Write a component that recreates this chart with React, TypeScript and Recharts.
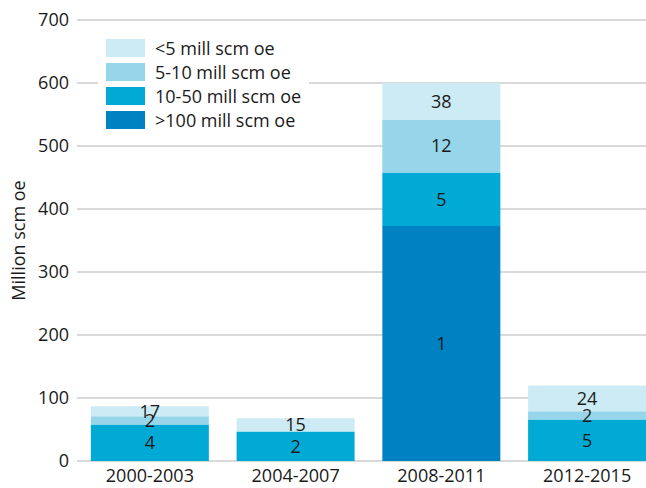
import { Bar, BarChart, CartesianGrid, LabelList, XAxis, YAxis } from "recharts";

// periods on the x axis
const periods = ["2000-2003", "2004-2007", "2008-2011", "2012-2015"];

// volumes (million scm oe), stacked bottom to top
const over100 = [0, 0, 373, 0];
const from10to50 = [58, 47, 85, 66];
const from5to10 = [13, 0, 84, 13];
const under5 = [16, 21, 58, 41];

// number of discoveries printed inside each segment
const over100Count = [null, null, 1, null];
const from10to50Count = [4, 2, 5, 5];
const from5to10Count = [2, null, 12, 2];
const under5Count = [17, 15, 38, 24];

const yTicks = [0, 100, 200, 300, 400, 500, 600, 700];

const seriesKeys = ["over100", "from10to50", "from5to10", "under5"];
const seriesNames = [">100 mill scm oe", "10-50 mill scm oe", "5-10 mill scm oe", "<5 mill scm oe"];
const seriesColors = ["#0081c1", "#00aad5", "#96d5ea", "#cdebf4"];

const data = periods.map((period, i) => ({
	period,
	over100: over100[i],
	from10to50: from10to50[i],
	from5to10: from5to10[i],
	under5: under5[i],
	over100Count: over100Count[i],
	from10to50Count: from10to50Count[i],
	from5to10Count: from5to10Count[i],
	under5Count: under5Count[i],
}));

const font = "'Open Sans', sans-serif";
const textStyle = { fontFamily: font, fontSize: 18, fill: "#1a1a1a" };

// legend drawn as an overlay so it does not shrink the plot
function LegendBox() {
	const items = seriesNames.map((name, i) => ({ name, color: seriesColors[i] })).reverse();
	return (
		<div
			style={{
				position: "absolute",
				left: 98,
				top: 31,
				background: "#fff",
				padding: "5px 8px 6px 8px",
				fontFamily: font,
			}}
		>
			{items.map((item) => (
				<div key={item.name} style={{ display: "flex", alignItems: "center", height: 24 }}>
					<div style={{ width: 39, height: 18, background: item.color, marginRight: 10 }} />
					<span style={{ fontSize: 18, color: "#1a1a1a", lineHeight: "18px" }}>{item.name}</span>
				</div>
			))}
		</div>
	);
}

export default function App() {
	return (
		<div style={{ position: "fixed", left: 0, top: 0, width: 646, height: 488, overflow: "hidden", background: "#fff" }}>
			<BarChart
				width={660}
				height={488}
				data={data}
				margin={{ top: 20, right: 0, bottom: 0, left: 0 }}
				barCategoryGap="9.5%"
			>
				<CartesianGrid vertical={false} stroke="#d9d9d9" strokeWidth={2} />
				<XAxis
					dataKey="period"
					axisLine={false}
					tickLine={false}
					height={27}
					tickMargin={2}
					tick={textStyle}
				/>
				<YAxis
					domain={[0, 700]}
					ticks={yTicks}
					axisLine={false}
					tickLine={false}
					width={77}
					tick={textStyle}
					label={{
						value: "Million scm oe",
						angle: -90,
						position: "insideLeft",
						offset: 19,
						style: { ...textStyle, textAnchor: "middle" },
					}}
				/>
				{seriesKeys.map((key, i) => (
					<Bar
						key={key}
						dataKey={key}
						name={seriesNames[i]}
						stackId="a"
						fill={seriesColors[i]}
						isAnimationActive={false}
					>
						<LabelList dataKey={`${key}Count`} position="center" style={textStyle} />
					</Bar>
				))}
			</BarChart>
			<LegendBox />
		</div>
	);
}
